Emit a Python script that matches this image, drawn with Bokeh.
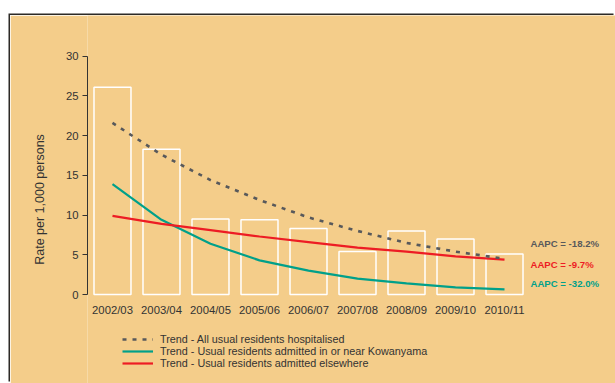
from bokeh.plotting import figure
from bokeh.models import Range1d, FixedTicker, Legend, LegendItem, ColumnDataSource
from bokeh.core.properties import value
from bokeh.embed import file_html
from bokeh.resources import INLINE

# ---- data ----
years = ["2002/03", "2003/04", "2004/05", "2005/06", "2006/07",
         "2007/08", "2008/09", "2009/10", "2010/11"]
rates = [26.1, 18.3, 9.5, 9.4, 8.3, 5.4, 8.0, 7.0, 5.1]
trend_all = [21.6, 17.6, 14.4, 11.9, 9.7, 8.0, 6.5, 5.4, 4.5]
trend_near = [13.9, 9.4, 6.4, 4.3, 3.0, 2.0, 1.4, 0.9, 0.65]
trend_else = [9.9, 8.9, 8.1, 7.3, 6.6, 5.9, 5.4, 4.8, 4.4]
aapc_labels = ["AAPC = -18.2%", "AAPC = -9.7%", "AAPC = -32.0%"]
y_ticks = [0, 5, 10, 15, 20, 25, 30]
legend_labels = ["Trend - All usual residents hospitalised",
                 "Trend - Usual residents admitted in or near Kowanyama",
                 "Trend - Usual residents admitted elsewhere"]

xs = list(range(len(years)))

BG = "#f4cd8a"
PAGE = "#fbebd5"
GRAY = "#58595b"
TEAL = "#00a08a"
RED = "#ed1c24"
TXT = "#333333"
FONT = "Liberation Sans"

p = figure(width=605, height=368, output_backend="svg", toolbar_location=None,
           x_range=Range1d(-0.510, 10.265), y_range=Range1d(-11.2, 35.12),
           x_axis_location=None, min_border_left=77, min_border_right=0,
           min_border_top=0, min_border_bottom=0)
p.title.visible = False
p.background_fill_color = BG
p.border_fill_color = BG
p.outline_line_color = None
p.grid.visible = False
p.margin = (15, 0, 0, 10)
p.styles = {"box-shadow": "-1.5px -1.5px 0 #2d2a26", "overflow": "hidden"}

ax = p.yaxis[0]
ax.bounds = (0, 30)
ax.ticker = FixedTicker(ticks=y_ticks)
ax.minor_tick_line_color = None
ax.major_tick_in = 0
ax.major_tick_out = 5
ax.major_tick_line_color = TXT
ax.axis_line_color = TXT
ax.major_label_text_font = FONT
ax.major_label_text_font_size = "11.3px"
ax.major_label_text_color = TXT
ax.major_label_standoff = 4
ax.axis_label = "Rate per 1,000 persons"
ax.axis_label_text_font = FONT
ax.axis_label_text_font_size = "12.5px"
ax.axis_label_text_font_style = "normal"
ax.axis_label_text_color = TXT
ax.axis_label_standoff = 16

# bars
p.vbar(x=xs, top=rates, bottom=0, width=0.755, fill_color=None,
       line_color="white", line_width=1.5)

# trend lines
r_near = p.line(xs, trend_near, line_color=TEAL, line_width=2.2)
r_else = p.line(xs, trend_else, line_color=RED, line_width=2.2)
r_all = p.line(xs, trend_all, line_color=GRAY, line_width=2.6, line_dash="4 6")

# x labels
p.text(x=xs, y=[-2.0] * len(xs), text=years, text_align="center",
       text_baseline="middle", text_font=value(FONT), text_font_size="11.3px",
       text_color=TXT)

# AAPC labels
src = ColumnDataSource(dict(x=[8.53, 8.53, 8.53], y=[6.38, 3.74, 1.35],
                            text=aapc_labels, color=[GRAY, RED, TEAL]))
p.text(x="x", y="y", text="text", text_color="color", source=src,
       text_align="left", text_baseline="middle", text_font=value(FONT),
       text_font_size="9.6px", text_font_style="bold")

legend = Legend(items=[LegendItem(label=legend_labels[0], renderers=[r_all]),
                       LegendItem(label=legend_labels[1], renderers=[r_near]),
                       LegendItem(label=legend_labels[2], renderers=[r_else])],
                location=(35, 14), background_fill_alpha=0, border_line_color=None,
                padding=0, margin=0, spacing=0, label_height=12, glyph_height=12,
                glyph_width=31, label_standoff=7, label_text_font=FONT,
                label_text_font_size="10.8px", label_text_color=TXT)
p.add_layout(legend, "center")

html = file_html(p, INLINE)
html = html.replace("<body>", '<body style="margin:0;overflow:hidden;background:%s;">' % PAGE, 1)
open("out.html", "w").write(html)
